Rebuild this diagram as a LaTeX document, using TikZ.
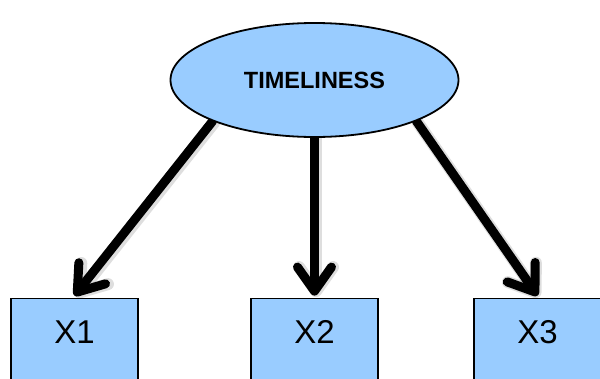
\documentclass[tikz,border=0pt]{standalone}
\usepackage{fontspec}
\setmainfont{Liberation Sans}
\usetikzlibrary{arrows.meta,shapes.geometric,backgrounds}
\definecolor{boxblue}{HTML}{99CCFF}
\begin{document}
\begin{tikzpicture}[x=1pt,y=-1pt,
  latent/.style={ellipse, draw=black, line width=1.8pt, fill=boxblue,
    minimum width=288pt, minimum height=114pt, inner sep=0pt,
    font=\bfseries\fontsize{23.5}{26}\selectfont},
  indicator/.style={rectangle, draw=black, line width=1.8pt, fill=boxblue,
    minimum width=127pt, minimum height=82pt, inner sep=0pt,
    text height=24pt, text depth=16pt,
    font=\fontsize{33}{38}\selectfont},
  loading/.style={line width=9pt, line cap=round,
    -{Straight Barb[length=24pt,width=34pt,round]}},
  loadshadow/.style={loading, draw=black, opacity=0.13, line width=12pt,
    transform canvas={xshift=1.5pt,yshift=-1.5pt}}]
\clip (0,0) rectangle (600,378);
\node[latent] (T) at (314.5,80) {TIMELINESS};
\node[indicator] (X1) at (74.5,339.5) {X1};
\node[indicator] (X2) at (314.5,339.5) {X2};
\node[indicator] (X3) at (537.5,339.5) {X3};
\begin{scope}[on background layer]
  % soft shadows under the loadings
  \draw[loadshadow] (T.202.5) -- ([yshift=2pt]X1.north);
  \draw[loadshadow] (T.south) -- ([yshift=2pt]X2.north);
  \draw[loadshadow] (T.338) -- ([yshift=2pt]X3.north);
  % loadings
  \draw[loading] (T.202.5) -- ([yshift=2pt]X1.north);
  \draw[loading] (T.south) -- ([yshift=2pt]X2.north);
  \draw[loading] (T.338) -- ([yshift=2pt]X3.north);
\end{scope}
\end{tikzpicture}
\end{document}
